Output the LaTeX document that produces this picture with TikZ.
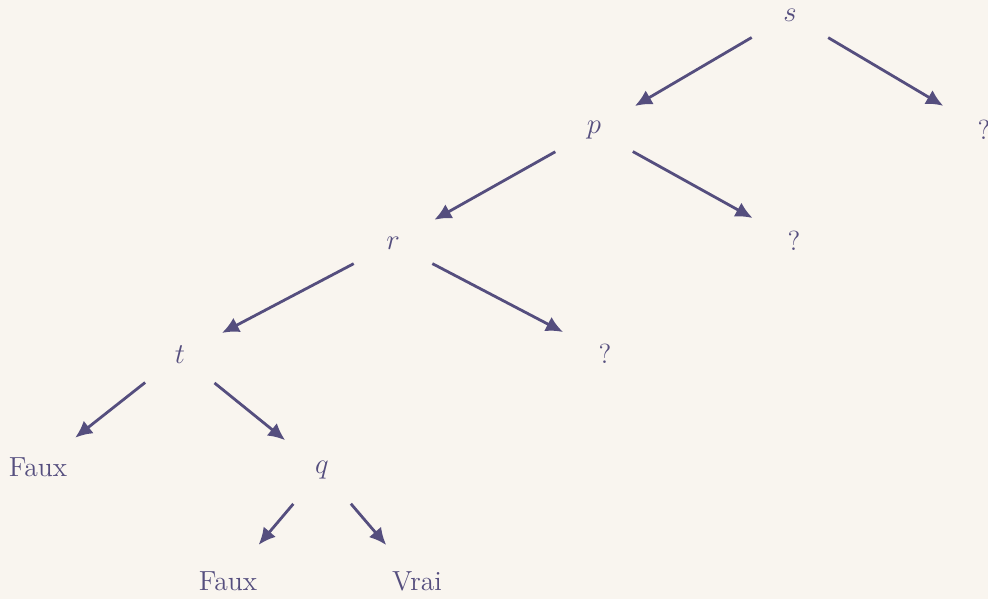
\documentclass[tikz,border=0pt]{standalone}
\usetikzlibrary{arrows.meta}

\definecolor{fond}{HTML}{F9F5EF}
\definecolor{encre}{HTML}{554E7E}

\begin{document}
\begin{tikzpicture}[
  x=0.5pt, y=-0.5pt,
  font=\fontsize{13.8}{16}\selectfont,
  noeud/.style={circle, minimum size=44pt, inner sep=0pt, text=encre},
  fleche/.style={encre, line width=1.4pt, -{Latex[length=8.5pt,width=8pt]}, shorten >=1.5pt}
]
  % fond
  \fill[fond] (0,0) rectangle (988,599);
  \useasboundingbox (0,0) rectangle (988,599);

  % noeuds de l'arbre
  \node[noeud] (s)  at (790,15)  {$s$};
  \node[noeud] (p)  at (594,130) {$p$};
  \node[noeud] (i1) at (984,130) {?};
  \node[noeud] (r)  at (393,243) {$r$};
  \node[noeud] (i2) at (794,241) {?};
  \node[noeud] (t)  at (180,355) {$t$};
  \node[noeud] (i3) at (605,354) {?};
  \node[noeud] (f1) at (38,467)  {Faux};
  \node[noeud] (q)  at (322,470) {$q$};
  \node[noeud] (f2) at (228,581) {Faux};
  \node[noeud] (v)  at (417,581) {Vrai};

  % aretes
  \draw[fleche] (s) -- (p);
  \draw[fleche] (s) -- (i1);
  \draw[fleche] (p) -- (r);
  \draw[fleche] (p) -- (i2);
  \draw[fleche] (r) -- (t);
  \draw[fleche] (r) -- (i3);
  \draw[fleche] (t) -- (f1);
  \draw[fleche] (t) -- (q);
  \draw[fleche] (q) -- (f2);
  \draw[fleche] (q) -- (v);

\end{tikzpicture}
\end{document}
